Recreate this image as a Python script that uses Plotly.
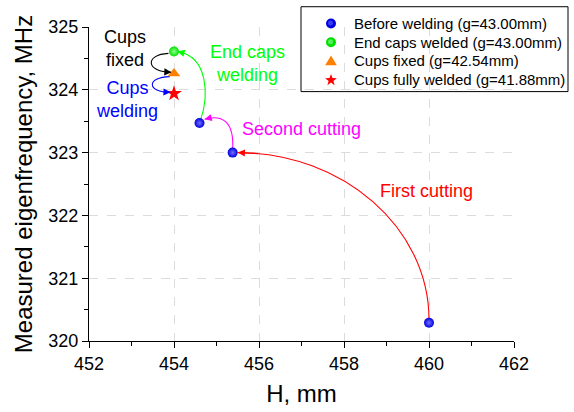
import math
import plotly.graph_objects as go

# ---- data ----
H_before = [460.0, 455.38, 454.6]
F_before = [320.29, 323.0, 323.47]
H_endcaps = [454.0]
F_endcaps = [324.61]
H_cupsfixed = [454.0]
F_cupsfixed = [324.26]
H_cupswelded = [454.0]
F_cupswelded = [323.94]

legend_names = [
    "Before welding (g=43.00mm)",
    "End caps welded (g=43.00mm)",
    "Cups fixed (g=42.54mm)",
    "Cups fully welded (g=41.88mm)",
]

x_ticks = [452, 454, 456, 458, 460, 462]
y_ticks = [320, 321, 322, 323, 324, 325]

FONT = "Arial, Liberation Sans, sans-serif"
BLUE = "#0000FF"
GREEN = "#00FF00"
ORANGE = "#FF8000"
RED = "#FF0000"
MAGENTA = "#FF00FF"

# plot area in pixels (figure 574x412)
PL, PR, PT, PB = 89, 514, 27, 341.5

styles = [
    dict(symbol="circle", size=10, color="#0000E0",
         gradient=dict(type="radial", color="#7070FF"), line=dict(width=0)),
    dict(symbol="circle", size=10, color="#00E000",
         gradient=dict(type="radial", color="#90FF90"), line=dict(width=0)),
    dict(symbol="triangle-up", size=11, color=ORANGE, line=dict(width=0)),
    dict(symbol="star", size=12, color=RED, line=dict(width=0)),
]

fig = go.Figure()

series = [(H_before, F_before), (H_endcaps, F_endcaps),
          (H_cupsfixed, F_cupsfixed), (H_cupswelded, F_cupswelded)]
for (hx, fy), st, nm in zip(series, styles, legend_names):
    fig.add_trace(go.Scatter(x=hx, y=fy, mode="markers", name=nm, marker=st,
                             showlegend=False))


def bez(p0, c1, c2, p3, t):
    u = 1 - t
    return (u**3 * p0[0] + 3 * u * u * t * c1[0] + 3 * u * t * t * c2[0] + t**3 * p3[0],
            u**3 * p0[1] + 3 * u * u * t * c1[1] + 3 * u * t * t * c2[1] + t**3 * p3[1])


def curve(p0, c1, c2, p3, color):
    path = f"M {p0[0]},{p0[1]} C {c1[0]},{c1[1]} {c2[0]},{c2[1]} {p3[0]},{p3[1]}"
    fig.add_shape(type="path", path=path, xref="x", yref="y",
                  line=dict(color=color, width=1.1), layer="between")
    tail = bez(p0, c1, c2, p3, 0.93)
    fig.add_annotation(x=p3[0], y=p3[1], ax=tail[0], ay=tail[1],
                       xref="x", yref="y", axref="x", ayref="y",
                       text="", showarrow=True, arrowhead=2, arrowsize=1.3,
                       arrowwidth=1.1, arrowcolor=color, standoff=0, startstandoff=0)


# First cutting: point 1 -> point 2
p0 = (H_before[0], F_before[0] + 0.05)
p3 = (H_before[1] + 0.12, F_before[1])
curve(p0, (p0[0], p0[1] + 0.55 * (p3[1] - p0[1])),
      (p3[0] + 0.55 * (p0[0] - p3[0]), p3[1]), p3, RED)

# Second cutting: point 2 -> point 3
p0 = (H_before[1], F_before[1] + 0.05)
p3 = (H_before[2] + 0.12, F_before[2] + 0.06)
curve(p0, (p0[0] + 0.04, p0[1] + 0.45), (p0[0] - 0.25, p3[1] + 0.08), p3, MAGENTA)

# End caps welding: point 3 -> end caps point
p0 = (H_before[2] + 0.02, F_before[2] + 0.04)
p3 = (H_endcaps[0] + 0.08, F_endcaps[0])
curve(p0, (p0[0] + 0.2, p0[1] + 0.38), (p0[0] + 0.2, p3[1] - 0.08), p3, GREEN)

# Cups fixed: end caps -> cups fixed
p0 = (H_endcaps[0] - 0.13, F_endcaps[0] - 0.03)
p3 = (H_cupsfixed[0] - 0.06, F_cupsfixed[0] + 0.02)
curve(p0, (p0[0] - 0.57, p0[1] - 0.02), (p3[0] - 0.6, p3[1]), p3, "#000000")

# Cups welding: cups fixed -> cups fully welded
p0 = (H_cupsfixed[0] - 0.1, F_cupsfixed[0] - 0.05)
p3 = (H_cupswelded[0] - 0.08, F_cupswelded[0] + 0.02)
curve(p0, (p0[0] - 0.55, p0[1] - 0.01), (p3[0] - 0.57, p3[1]), p3, BLUE)

# Labels
labels = [
    ("Cups<br>fixed", 452.85, 324.66, "#000000"),
    ("Cups<br>welding", 452.89, 323.85, BLUE),
    ("End caps<br>welding", 455.74, 324.42, GREEN),
    ("Second cutting", 457.0, 323.38, MAGENTA),
    ("First cutting", 459.95, 322.39, RED),
]
for txt, lx, ly, col in labels:
    fig.add_annotation(x=lx, y=ly, xref="x", yref="y", text=txt, showarrow=False,
                       font=dict(family=FONT, size=18, color=col),
                       align="center", xanchor="center", yanchor="middle")


# ---- hand-built legend (box, pixel-sized symbols, text) ----
def px2paper_x(px):
    return (px - PL) / (PR - PL)


def px2paper_y(py):
    return (PB - py) / (PB - PT)


leg_left, leg_right, leg_top, leg_bottom = 301, 568, 6.7, 91.7
leg_rows = [23.5, 42.3, 61.0, 79.7]
leg_sym_x = 331
leg_txt_x = 352

fig.add_shape(type="rect", xref="paper", yref="paper",
              x0=px2paper_x(leg_left), x1=px2paper_x(leg_right),
              y0=px2paper_y(leg_bottom), y1=px2paper_y(leg_top),
              line=dict(color="black", width=1), fillcolor="white", layer="between")


def pix_shape(row, **kw):
    fig.add_shape(xref="paper", yref="paper", xsizemode="pixel", ysizemode="pixel",
                  xanchor=px2paper_x(leg_sym_x), yanchor=px2paper_y(row),
                  layer="above", **kw)


def circle_sym(row, dark, light):
    pix_shape(row, type="circle", x0=-5, x1=5, y0=-5, y1=5,
              fillcolor=dark, line=dict(width=0))
    pix_shape(row, type="circle", x0=-3, x1=2, y0=-2, y1=3,
              fillcolor=light, line=dict(width=0), opacity=0.6)


def poly_path(pts):
    return "M " + " L ".join(f"{x:.2f},{y:.2f}" for x, y in pts) + " Z"


circle_sym(leg_rows[0], "#0000E0", "#6060FF")
circle_sym(leg_rows[1], "#00E000", "#90FF90")
tri = [(0, 5.5), (5.8, -4.2), (-5.8, -4.2)]
pix_shape(leg_rows[2], type="path", path=poly_path(tri), fillcolor=ORANGE, line=dict(width=0))
star = []
for k in range(10):
    r = 6.2 if k % 2 == 0 else 2.5
    a = math.pi / 2 + k * math.pi / 5
    star.append((r * math.cos(a), r * math.sin(a) - 0.5))
pix_shape(leg_rows[3], type="path", path=poly_path(star), fillcolor=RED, line=dict(width=0))

for row, nm in zip(leg_rows, legend_names):
    fig.add_annotation(x=px2paper_x(leg_txt_x), y=px2paper_y(row), xref="paper", yref="paper",
                       text=nm, showarrow=False, xanchor="left", yanchor="middle",
                       font=dict(family=FONT, size=15, color="black"))

axis_common = dict(
    showline=True, linecolor="black", linewidth=1.3, mirror=False,
    ticks="outside", ticklen=6, tickwidth=1.3, tickcolor="black",
    showgrid=True, gridcolor="#DCDCDC", griddash="dash", gridwidth=1,
    zeroline=False, tickfont=dict(family=FONT, size=18, color="black"),
)

fig.update_layout(
    width=574, height=412,
    margin=dict(l=PL, r=574 - PR, t=PT, b=412 - PB, autoexpand=False),
    plot_bgcolor="white", paper_bgcolor="white",
    showlegend=False,
    xaxis=dict(range=[452, 462], tickvals=x_ticks,
               minor=dict(dtick=1, ticks="outside", ticklen=4, tickcolor="black",
                          tickwidth=1.3, showgrid=False),
               title=dict(text="H, mm", font=dict(family=FONT, size=24, color="black"),
                          standoff=12),
               **axis_common),
    yaxis=dict(range=[320, 325], tickvals=y_ticks,
               minor=dict(dtick=0.5, ticks="outside", ticklen=4, tickcolor="black",
                          tickwidth=1.3, showgrid=False),
               title=dict(text="Measured eigenfrequency, MHz",
                          font=dict(family=FONT, size=24, color="black"), standoff=8),
               **axis_common),
)

fig.write_html("out.html", config={"displayModeBar": False},
               post_script="document.body.style.margin='0px';document.body.style.padding='0px';")
